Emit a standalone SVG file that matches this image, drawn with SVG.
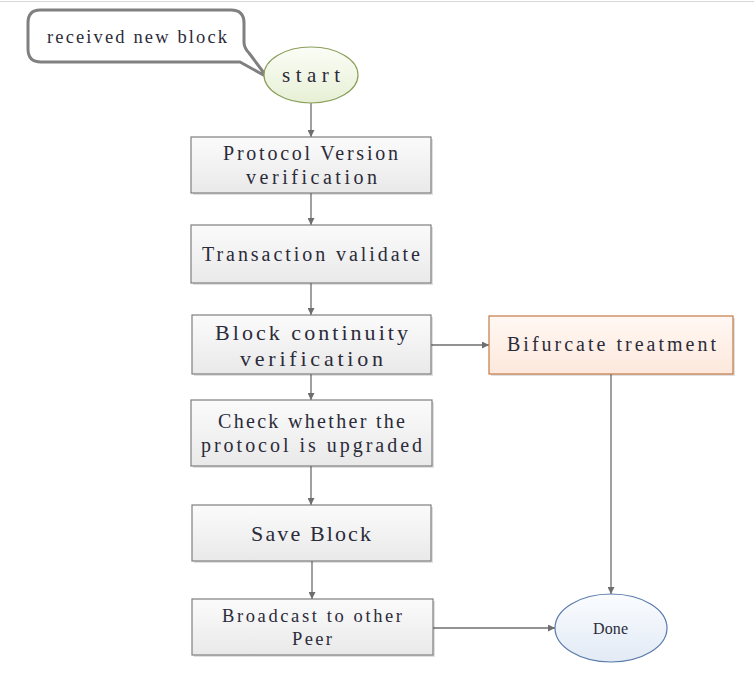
<svg xmlns="http://www.w3.org/2000/svg" width="754" height="691" viewBox="0 0 754 691">
<style>
text{font-family:"Liberation Serif","DejaVu Serif",serif;fill:#2b2b3a;text-anchor:middle;dominant-baseline:central}
.box{fill:url(#gGray);stroke:#7f7f7f;stroke-width:1.2}
.shadow{fill:#000;opacity:0.12}
.conn{stroke:#6e6e6e;stroke-width:1.3;fill:none;marker-end:url(#arr)}
</style>
<defs>
<linearGradient id="gGray" x1="0" y1="0" x2="0" y2="1"><stop offset="0" stop-color="#fbfbfb"/><stop offset="1" stop-color="#e9e9e9"/></linearGradient>
<linearGradient id="gOrange" x1="0" y1="0" x2="0" y2="1"><stop offset="0" stop-color="#fff8f3"/><stop offset="1" stop-color="#fde8dc"/></linearGradient>
<linearGradient id="gGreen" x1="0" y1="0" x2="0" y2="1"><stop offset="0" stop-color="#fbfdf6"/><stop offset="1" stop-color="#e7f0d6"/></linearGradient>
<linearGradient id="gBlue" x1="0" y1="0" x2="0" y2="1"><stop offset="0" stop-color="#fafcff"/><stop offset="1" stop-color="#e2eaf5"/></linearGradient>
<marker id="arr" viewBox="0 0 10 10" refX="10" refY="5" markerWidth="7" markerHeight="7" markerUnits="userSpaceOnUse" orient="auto"><path d="M0,0 L10,5 L0,10 z" fill="#6e6e6e"/></marker>
</defs>
<rect width="754" height="691" fill="#fff"/>
<line x1="0" y1="1.5" x2="754" y2="1.5" stroke="#d8d8d8" stroke-width="1"/>

<g id="connectors">
<line class="conn" x1="311" y1="103" x2="311" y2="137"/>
<line class="conn" x1="311" y1="193" x2="311" y2="225"/>
<line class="conn" x1="311" y1="283" x2="311" y2="315"/>
<line class="conn" x1="431" y1="345" x2="489" y2="345"/>
<line class="conn" x1="311" y1="374" x2="311" y2="400"/>
<line class="conn" x1="311" y1="466" x2="311" y2="505"/>
<line class="conn" x1="312" y1="561" x2="312" y2="599"/>
<line class="conn" x1="611" y1="374" x2="611" y2="594"/>
<line class="conn" x1="433" y1="628" x2="555" y2="628"/>
</g>

<g id="callout">
<path d="M40,10 H231 Q244,10 244,23 V42 Q244,48 249,53 L267,77 L240,62 H41 Q28,62 28,49 V23 Q28,10 40,10 Z" fill="#fff" stroke="#808080" stroke-width="3" stroke-linejoin="round"/>
<text x="137" y="37" font-size="18.5" textLength="180" lengthAdjust="spacing">received new block</text>
</g>

<g id="start">
<ellipse cx="311" cy="75" rx="47" ry="28" fill="url(#gGreen)" stroke="#8a9f5a" stroke-width="1.2"/>
<text x="311" y="75" font-size="21" textLength="58" lengthAdjust="spacing">start</text>
</g>

<g id="protocolVersion">
<rect class="shadow" x="193" y="139" width="240" height="56"/>
<rect class="box" x="191" y="137" width="240" height="56"/>
<text x="310.5" y="153" font-size="20" textLength="175" lengthAdjust="spacing">Protocol Version</text>
<text x="311.5" y="177" font-size="20" textLength="131" lengthAdjust="spacing">verification</text>
</g>

<g id="transactionValidate">
<rect class="shadow" x="193" y="227" width="240" height="58"/>
<rect class="box" x="191" y="225" width="240" height="58"/>
<text x="311" y="254" font-size="20" textLength="218" lengthAdjust="spacing">Transaction validate</text>
</g>

<g id="blockContinuity">
<rect class="shadow" x="194" y="317" width="239" height="59"/>
<rect class="box" x="192" y="315" width="239" height="59"/>
<text x="311.5" y="332" font-size="22" textLength="193" lengthAdjust="spacing">Block continuity</text>
<text x="311.5" y="358" font-size="22" textLength="143" lengthAdjust="spacing">verification</text>
</g>

<g id="bifurcate">
<rect class="shadow" x="491" y="318" width="244" height="58"/>
<rect x="489" y="316" width="244" height="58" fill="url(#gOrange)" stroke="#c27a45" stroke-width="1.2"/>
<text x="611.5" y="344" font-size="20" textLength="209" lengthAdjust="spacing">Bifurcate treatment</text>
</g>

<g id="checkProtocol">
<rect class="shadow" x="193" y="402" width="241" height="66"/>
<rect class="box" x="191" y="400" width="241" height="66"/>
<text x="311.5" y="421" font-size="20" textLength="187" lengthAdjust="spacing">Check whether the</text>
<text x="311.5" y="445" font-size="20" textLength="221" lengthAdjust="spacing">protocol is upgraded</text>
</g>

<g id="saveBlock">
<rect class="shadow" x="194" y="507" width="239" height="56"/>
<rect class="box" x="192" y="505" width="239" height="56"/>
<text x="311" y="533" font-size="22" textLength="120" lengthAdjust="spacing">Save Block</text>
</g>

<g id="broadcast">
<rect class="shadow" x="194" y="601" width="241" height="56"/>
<rect class="box" x="192" y="599" width="241" height="56"/>
<text x="312" y="616" font-size="18.5" textLength="180" lengthAdjust="spacing">Broadcast to other</text>
<text x="312" y="639" font-size="18.5" textLength="40" lengthAdjust="spacing">Peer</text>
</g>

<g id="done">
<ellipse cx="611" cy="628" rx="56" ry="34" fill="url(#gBlue)" stroke="#5b7bab" stroke-width="1.2"/>
<text x="610.5" y="628" font-size="16" textLength="35" lengthAdjust="spacing">Done</text>
</g>
</svg>
